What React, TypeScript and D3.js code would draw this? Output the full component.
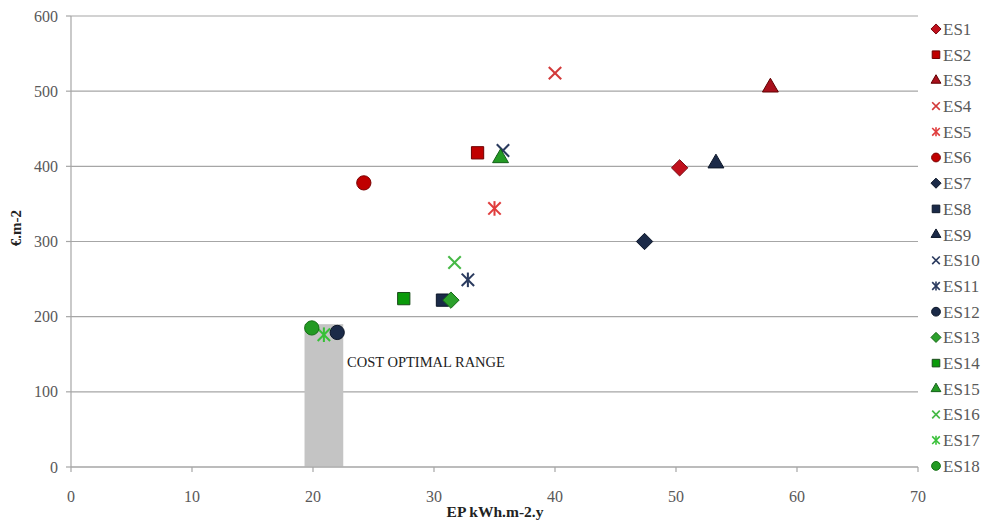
import React from "react";
import * as d3 from "d3";

// Energy performance vs. global cost for the 18 energy-saving packages
const seriesNames = ["ES1","ES2","ES3","ES4","ES5","ES6","ES7","ES8","ES9","ES10","ES11","ES12","ES13","ES14","ES15","ES16","ES17","ES18"];
const epValues = [50.3, 33.6, 57.8, 40.0, 35.0, 24.2, 47.4, 30.7, 53.3, 35.7, 32.8, 22.0, 31.4, 27.5, 35.5, 31.7, 20.9, 19.9];
const costValues = [398, 418, 505, 524, 344, 378, 300, 222, 404, 421, 249, 179, 222, 224, 411, 272, 176, 185];
const markerShapes = ["diamond","square","triangle","x","star","circle","diamond","square","triangle","x","star","circle","diamond","square","triangle","x","star","circle"];
const markerFills = ["#c0101c","#c00000","#a8101c","#d23a3a","#e03c3c","#c00000","#1b2a48","#1b2a48","#1b2a48","#2a3a5e","#2a3a5e","#1b2a48","#2ca02c","#0a9a0a","#249a24","#45b845","#38c038","#229a22"];
const markerEdges = ["#7a0a12","#6e0000","#600000","#d23a3a","#e03c3c","#7a0000","#0c1628","#0c1628","#0c1628","#2a3a5e","#2a3a5e","#0c1628","#1a6a1a","#1a4a1a","#14601a","#45b845","#38c038","#147014"];

const xTicks = [0, 10, 20, 30, 40, 50, 60, 70];
const yTicks = [0, 100, 200, 300, 400, 500, 600];
const costOptimalRange = { x0: 19.3, x1: 22.5, top: 190 };

const W = 983;
const H = 522;
const x = d3.scaleLinear().domain([0, 70]).range([71, 918]);
const y = d3.scaleLinear().domain([0, 600]).range([467, 16]);

const serif = "'Liberation Serif', 'Times New Roman', serif";
const axisGrey = "#a6a6a6";
const labelGrey = "#595959";

function Marker({ shape, cx, cy, r, fill, edge }: { shape: string; cx: number; cy: number; r: number; fill: string; edge: string }) {
  const t = `translate(${cx},${cy})`;
  if (shape === "x" || shape === "star") {
    const a = r * 0.85;
    const sw = Math.max(1.6, r * 0.28);
    return (
      <g transform={t} stroke={fill} strokeWidth={sw} strokeLinecap="butt">
        <line x1={-a} y1={-a} x2={a} y2={a} />
        <line x1={-a} y1={a} x2={a} y2={-a} />
        {shape === "star" && <line x1={0} y1={-r} x2={0} y2={r} />}
      </g>
    );
  }
  const symType =
    shape === "diamond" ? d3.symbolDiamond2 :
    shape === "square" ? d3.symbolSquare2 :
    shape === "triangle" ? d3.symbolTriangle2 : d3.symbolCircle;
  const sizeFactor = shape === "diamond" ? 3.2 : shape === "square" ? 3.6 : shape === "triangle" ? 3.4 : 3.0;
  const path = d3.symbol().type(symType).size(r * r * sizeFactor)() as string;
  return <path d={path} transform={t} fill={fill} stroke={edge} strokeWidth={1} />;
}

export default function App() {
  const legendTop = 29;
  const legendStep = 25.7;
  return (
    <svg width={W} height={H} style={{ position: "absolute", left: 0, top: 0, background: "#fff" }} fontFamily={serif}>
      {/* horizontal gridlines */}
      {yTicks.map((v) => (
        <line key={"g" + v} x1={x(0)} x2={x(70)} y1={y(v)} y2={y(v)} stroke={axisGrey} strokeWidth={1.2} />
      ))}
      {/* cost optimal band */}
      <rect
        x={x(costOptimalRange.x0)}
        y={y(costOptimalRange.top)}
        width={x(costOptimalRange.x1) - x(costOptimalRange.x0)}
        height={y(0) - y(costOptimalRange.top)}
        fill="#c4c4c4"
      />
      <text x={347} y={367} fontSize={14.5} fill="#222">COST OPTIMAL RANGE</text>
      {/* y axis */}
      <line x1={x(0)} x2={x(0)} y1={y(600)} y2={y(0)} stroke={axisGrey} strokeWidth={1.2} />
      {yTicks.map((v) => (
        <g key={"yt" + v}>
          <line x1={x(0) - 5} x2={x(0)} y1={y(v)} y2={y(v)} stroke={axisGrey} strokeWidth={1.2} />
          <text x={x(0) - 13} y={y(v)} dy="0.35em" textAnchor="end" fontSize={16} fill={labelGrey}>{v}</text>
        </g>
      ))}
      {/* x axis */}
      <line x1={x(0)} x2={x(70)} y1={y(0)} y2={y(0)} stroke={axisGrey} strokeWidth={1.2} />
      {xTicks.map((v) => (
        <g key={"xt" + v}>
          <line x1={x(v)} x2={x(v)} y1={y(0)} y2={y(0) + 5} stroke={axisGrey} strokeWidth={1.2} />
          <text x={x(v)} y={502} textAnchor="middle" fontSize={16} fill={labelGrey}>{v}</text>
        </g>
      ))}
      {/* axis titles */}
      <text x={495} y={517} textAnchor="middle" fontSize={15.5} fontWeight="bold" fill="#222">EP kWh.m-2.y</text>
      <text transform={`translate(21,228) rotate(-90)`} textAnchor="middle" fontSize={15} fontWeight="bold" fill="#222">€.m-2</text>
      {/* data points */}
      {seriesNames.map((n, i) => (
        <Marker key={"m" + n} shape={markerShapes[i]} cx={x(epValues[i])} cy={y(costValues[i])} r={7.3} fill={markerFills[i]} edge={markerEdges[i]} />
      ))}
      {/* legend */}
      {seriesNames.map((n, i) => (
        <g key={"l" + n}>
          <Marker shape={markerShapes[i]} cx={936} cy={legendTop + i * legendStep} r={4.5} fill={markerFills[i]} edge={markerEdges[i]} />
          <text x={943} y={legendTop + i * legendStep} dy="0.35em" fontSize={17} fill={labelGrey}>{n}</text>
        </g>
      ))}
    </svg>
  );
}
